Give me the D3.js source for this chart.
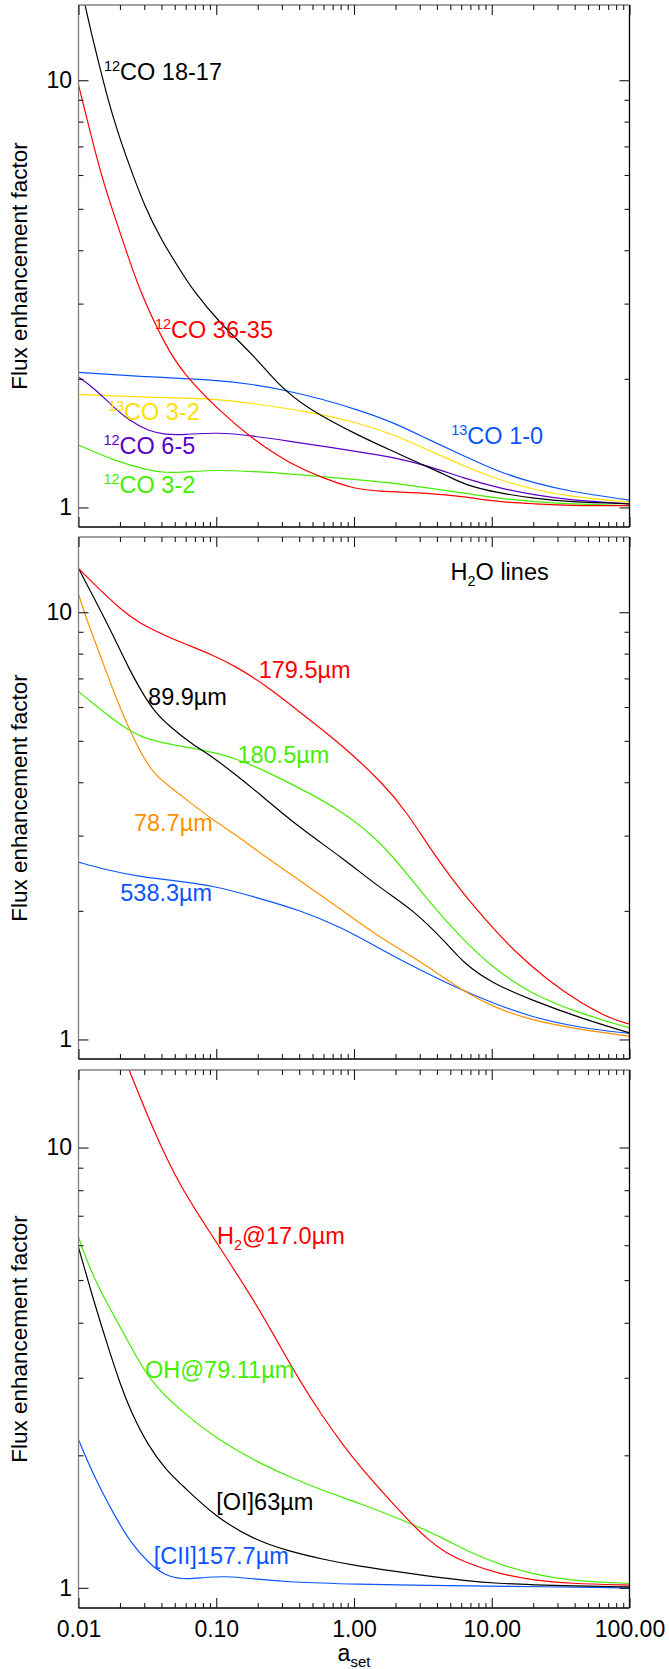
<!DOCTYPE html>
<html>
<head>
<meta charset="utf-8">
<script src="https://cdn.jsdelivr.net/npm/d3@7"></script>
<style>
  body { margin:0; background:#fff; }
  svg text { font-family:"Liberation Sans", Arial, Helvetica, sans-serif; fill:#000; }
</style>
</head>
<body>
<svg id="svg" width="669" height="1669"></svg>
<script>
// ---- data: [a_set, flux enhancement factor] ----
var xMajor = [0.01, 0.1, 1, 10, 100];
var xTickLabels = ["0.01", "0.10", "1.00", "10.00", "100.00"];
var yMajor = [1, 10];
var yMinor = [2, 3, 4, 5, 6, 7, 8, 9];
var yDomain = [0.9, 15];

// panel 1: CO lines
var co1817 = [[0.01,17.6],[0.01096,15.4],[0.01239,12.88],[0.01425,10.76],[0.01637,8.99],[0.01935,7.52],[0.02353,6.28],[0.03024,5.06],[0.0399,4.23],[0.0528,3.66],[0.0678,3.22],[0.106,2.70],[0.19,2.26],[0.289,1.92],[0.463,1.70],[1.09,1.47],[1.96,1.35],[2.8,1.28],[4.7,1.19],[6.3,1.13],[11.3,1.08],[20.4,1.05],[36.6,1.03],[100,1.02]];
var co3635 = [[0.01,9.75],[0.0111,8.52],[0.0131,6.87],[0.0155,5.64],[0.0183,4.80],[0.0229,3.87],[0.028,3.2],[0.043,2.38],[0.0577,2.06],[0.1036,1.69],[0.1864,1.44],[0.335,1.27],[0.602,1.17],[0.963,1.11],[1.45,1.09],[3.5,1.08],[6.3,1.06],[11.3,1.03],[20.4,1.02],[36.6,1.01],[100,1.01]];
var co13_10 = [[0.01,2.07],[0.0321,2.02],[0.0977,1.99],[0.1864,1.94],[0.298,1.89],[0.602,1.79],[1.08,1.69],[1.95,1.58],[3.5,1.44],[6.3,1.32],[11.3,1.21],[20.4,1.14],[36.6,1.09],[100,1.04]];
var co13_32 = [[0.01,1.84],[0.0321,1.81],[0.0977,1.80],[0.1864,1.75],[0.449,1.68],[1.08,1.58],[1.95,1.48],[3.5,1.36],[6.3,1.25],[11.3,1.16],[20.4,1.10],[36.6,1.06],[100,1.03]];
var co65 = [[0.01,2.02],[0.0133,1.89],[0.0178,1.72],[0.0239,1.59],[0.0321,1.51],[0.043,1.48],[0.0577,1.48],[0.1036,1.50],[0.1864,1.47],[0.335,1.43],[0.602,1.39],[1.08,1.35],[1.95,1.31],[3.5,1.25],[6.3,1.17],[11.3,1.11],[20.4,1.07],[36.6,1.04],[100,1.02]];
var co32 = [[0.01,1.40],[0.0178,1.29],[0.0321,1.22],[0.043,1.206],[0.0577,1.21],[0.1036,1.225],[0.1864,1.213],[0.335,1.20],[0.602,1.18],[1.08,1.16],[1.95,1.14],[3.5,1.11],[6.3,1.08],[11.3,1.05],[20.4,1.03],[36.6,1.02],[100,1.01]];

// panel 2: H2O lines
var h2o1795 = [[0.01,12.66],[0.0141,11.33],[0.0201,10.18],[0.0267,9.48],[0.0472,8.67],[0.0964,7.93],[0.1478,7.38],[0.2266,6.75],[0.4009,5.85],[0.8144,4.90],[1.655,3.95],[2.38,3.43],[4.09,2.62],[6.22,2.19],[10,1.835],[14.3,1.62],[25.1,1.38],[43.7,1.22],[76.3,1.11],[100,1.087]];
var h2o899 = [[0.01,12.66],[0.0131,10.74],[0.0174,8.98],[0.0232,7.38],[0.0287,6.52],[0.0355,5.85],[0.0472,5.36],[0.0673,4.90],[0.0964,4.56],[0.1376,4.17],[0.1957,3.81],[0.4009,3.13],[0.8144,2.67],[1.544,2.26],[2.70,2.01],[4.71,1.68],[6.22,1.51],[10,1.355],[19,1.24],[43.7,1.123],[100,1.036]];
var h2o1805 = [[0.01,6.52],[0.0141,5.96],[0.0201,5.45],[0.0287,5.08],[0.0472,4.90],[0.0779,4.77],[0.1376,4.56],[0.2266,4.25],[0.4009,3.88],[0.8144,3.43],[1.655,2.87],[3.56,2.08],[6.22,1.71],[10,1.48],[19,1.28],[43.7,1.15],[100,1.064]];
var h2o787 = [[0.01,11.03],[0.0114,9.65],[0.0141,8.07],[0.0187,6.29],[0.0232,5.36],[0.0287,4.64],[0.0355,4.17],[0.0472,3.88],[0.0673,3.55],[0.0964,3.25],[0.1376,3.02],[0.1957,2.77],[0.4009,2.36],[0.8144,2.01],[1.544,1.73],[2.70,1.56],[4.71,1.38],[6.22,1.30],[10,1.195],[19,1.11],[43.7,1.055],[100,1.018]];
var h2o5383 = [[0.01,2.60],[0.0162,2.49],[0.0287,2.40],[0.0472,2.36],[0.0964,2.29],[0.1957,2.15],[0.4009,2.01],[0.8144,1.83],[1.544,1.63],[2.70,1.48],[5.88,1.31],[10,1.22],[19,1.13],[43.7,1.064],[100,1.033]];

// panel 3: other species
var h2_170 = [[0.02,16.9],[0.0233,15],[0.0349,10.95],[0.0545,8.15],[0.0955,6.24],[0.1957,4.41],[0.28,3.61],[0.4,2.97],[0.571,2.49],[0.8144,2.13],[1.16,1.85],[1.7,1.62],[2.55,1.41],[3.5,1.28],[4.68,1.20],[6.3,1.145],[11.3,1.075],[20.4,1.04],[36.6,1.023],[100,1.014]];
var oh7911 = [[0.01,6.26],[0.0122,5.25],[0.0162,4.41],[0.0232,3.61],[0.0321,2.97],[0.0577,2.49],[0.1036,2.17],[0.1864,1.95],[0.335,1.79],[0.602,1.66],[1.08,1.56],[2.61,1.40],[4.68,1.287],[6.3,1.22],[11.3,1.13],[20.4,1.072],[36.6,1.039],[100,1.023]];
var oi63 = [[0.01,5.93],[0.0131,4.41],[0.0165,3.5],[0.0201,2.9],[0.0239,2.52],[0.0321,2.10],[0.043,1.855],[0.0577,1.70],[0.0977,1.454],[0.1864,1.287],[0.335,1.211],[0.602,1.16],[1.08,1.12],[1.95,1.091],[3.5,1.063],[6.3,1.039],[11.3,1.023],[20.4,1.016],[36.6,1.01],[100,1.005]];
var cii1577 = [[0.01,2.17],[0.0133,1.76],[0.01783,1.48],[0.0239,1.265],[0.0321,1.14],[0.043,1.063],[0.0577,1.046],[0.0773,1.054],[0.116,1.064],[0.186,1.048],[0.335,1.030],[1.08,1.019],[3.5,1.012],[11.3,1.009],[100,1.0]];

var red = "#ff0000", blk = "#000000", blue = "#0a55ff", yellow = "#ffe000",
    purple = "#5a00c8", green = "#44ee00", orange = "#ff9000";

// label text parts: [text, "sup"|"sub"|undefined]; anchored at (a_set, factor)
var panels = [
  { top:5, bottom:527,
    series:[{v:co13_10,c:blue},{v:co13_32,c:yellow},{v:co65,c:purple},{v:co32,c:green},{v:co3635,c:red},{v:co1817,c:blk}],
    labels:[
      {p:[["12","sup"],["CO 18-17"]], a:0.0153, f:10.0, c:blk},
      {p:[["12","sup"],["CO 36-35"]], a:0.0359, f:2.495, c:red},
      {p:[["13","sup"],["CO 3-2"]], a:0.01634, f:1.604, c:yellow},
      {p:[["12","sup"],["CO 6-5"]], a:0.01516, f:1.333, c:purple},
      {p:[["12","sup"],["CO 3-2"]], a:0.01516, f:1.081, c:green},
      {p:[["13","sup"],["CO 1-0"]], a:5.08, f:1.41, c:blue}
    ]},
  { top:537, bottom:1059,
    series:[{v:h2o5383,c:blue},{v:h2o787,c:orange},{v:h2o1805,c:green},{v:h2o899,c:blk},{v:h2o1795,c:red}],
    labels:[
      {p:[["H"],["2","sub"],["O lines"]], a:5.02, f:11.91, c:blk},
      {p:[["179.5\u00b5m"]], a:0.2033, f:7.02, c:red},
      {p:[["89.9\u00b5m"]], a:0.032, f:6.07, c:blk},
      {p:[["180.5\u00b5m"]], a:0.1424, f:4.44, c:green},
      {p:[["78.7\u00b5m"]], a:0.02525, f:3.07, c:orange},
      {p:[["538.3\u00b5m"]], a:0.0201, f:2.11, c:blue}
    ]},
  { top:1070, bottom:1608,
    series:[{v:cii1577,c:blue},{v:oi63,c:blk},{v:oh7911,c:green},{v:h2_170,c:red}],
    labels:[
      {p:[["H"],["2","sub"],["@17.0\u00b5m"]], a:0.1013, f:6.03, c:red},
      {p:[["OH@79.11\u00b5m"]], a:0.0304, f:3.0, c:green},
      {p:[["[OI]63\u00b5m"]], a:0.1, f:1.5, c:blk},
      {p:[["[CII]157.7\u00b5m"]], a:0.0352, f:1.134, c:blue}
    ]}
];

var xL = 78.5, xR = 629.5;
var x = d3.scaleLog().domain([0.01, 100]).range([xL, xR]);

var xMinor = [];
xMajor.slice(0, 4).forEach(function(d){ for (var k = 2; k <= 9; k++) xMinor.push(d * k); });

var svg = d3.select("#svg");
var defs = svg.append("defs");

panels.forEach(function(p, pi){
  var y = d3.scaleLog().domain(yDomain).range([p.bottom, p.top]);
  var g = svg.append("g").attr("class", "panel" + pi);

  defs.append("clipPath").attr("id", "clip" + pi)
    .append("rect").attr("x", xL).attr("y", p.top)
    .attr("width", xR - xL).attr("height", p.bottom - p.top);

  // curves (basis spline smooths the hand-read points)
  var line = d3.line()
    .x(function(d){ return x(d[0]); })
    .y(function(d){ return y(d[1]); })
    .curve(d3.curveBasis);

  g.append("g").attr("clip-path", "url(#clip" + pi + ")")
    .selectAll("path").data(p.series).enter().append("path")
    .attr("d", function(d){ return line(d.v); })
    .attr("fill", "none")
    .attr("stroke", function(d){ return d.c; })
    .attr("stroke-width", 1.2);

  // frame: left/top grey, right/bottom black like the original
  g.append("line").attr("x1", xL).attr("x2", xL).attr("y1", p.top).attr("y2", p.bottom)
    .attr("stroke", "#808080").attr("stroke-width", 1.3);
  g.append("line").attr("x1", xL).attr("x2", xR).attr("y1", p.top).attr("y2", p.top)
    .attr("stroke", "#808080").attr("stroke-width", 1.3);
  g.append("line").attr("x1", xR).attr("x2", xR).attr("y1", p.top).attr("y2", p.bottom)
    .attr("stroke", "#000").attr("stroke-width", 1.3);
  g.append("line").attr("x1", xL).attr("x2", xR).attr("y1", p.bottom).attr("y2", p.bottom)
    .attr("stroke", "#000").attr("stroke-width", 1.3);

  // x ticks (inward), labels only on bottom panel
  var lastPanel = (pi === panels.length - 1);
  g.append("g").attr("transform", "translate(0," + p.bottom + ")")
    .call(d3.axisBottom(x).tickValues(xMajor).tickSize(-10).tickPadding(13)
      .tickFormat(function(d, i){ return lastPanel ? xTickLabels[i] : ""; }));
  g.append("g").attr("transform", "translate(0," + p.bottom + ")")
    .call(d3.axisBottom(x).tickValues(xMinor).tickSize(-5).tickFormat(""));
  g.append("g").attr("transform", "translate(0," + p.top + ")")
    .call(d3.axisTop(x).tickValues(xMajor).tickSize(-10).tickFormat(""));
  g.append("g").attr("transform", "translate(0," + p.top + ")")
    .call(d3.axisTop(x).tickValues(xMinor).tickSize(-5).tickFormat(""));

  // y ticks
  g.append("g").attr("transform", "translate(" + xL + ",0)")
    .call(d3.axisLeft(y).tickValues(yMajor).tickSize(-10).tickPadding(6.5).tickFormat(d3.format("d")));
  g.append("g").attr("transform", "translate(" + xL + ",0)")
    .call(d3.axisLeft(y).tickValues(yMinor).tickSize(-5).tickFormat(""));
  g.append("g").attr("transform", "translate(" + xR + ",0)")
    .call(d3.axisRight(y).tickValues(yMajor).tickSize(-10).tickFormat(""));
  g.append("g").attr("transform", "translate(" + xR + ",0)")
    .call(d3.axisRight(y).tickValues(yMinor).tickSize(-5).tickFormat(""));

  g.selectAll(".domain").remove();
  g.selectAll(".tick line").attr("stroke", "#1a1a1a").attr("stroke-width", 1.1);
  g.selectAll(".tick text").style("font-size", "23px").attr("fill", "#000");

  // y title
  g.append("text")
    .attr("transform", "translate(27," + ((p.top + p.bottom) / 2) + ") rotate(-90)")
    .attr("text-anchor", "middle")
    .style("font-size", "22.5px")
    .text("Flux enhancement factor");

  // curve labels
  p.labels.forEach(function(l){
    var t = g.append("text")
      .attr("x", x(l.a)).attr("y", y(l.f))
      .style("font-size", "23.5px")
      .style("fill", l.c);
    var shift = 0;
    l.p.forEach(function(part){
      var target = part[1] === "sup" ? -9 : part[1] === "sub" ? 6 : 0;
      t.append("tspan")
        .attr("dy", target - shift)
        .style("font-size", part[1] ? "14.5px" : null)
        .style("fill", l.c)
        .text(part[0]);
      shift = target;
    });
  });
});

// x title
var xt = svg.append("text")
  .attr("x", (xL + xR) / 2).attr("y", 1661)
  .attr("text-anchor", "middle")
  .style("font-size", "23px");
xt.append("tspan").text("a");
xt.append("tspan").attr("dy", 6).style("font-size", "15px").text("set");
</script>
</body>
</html>
